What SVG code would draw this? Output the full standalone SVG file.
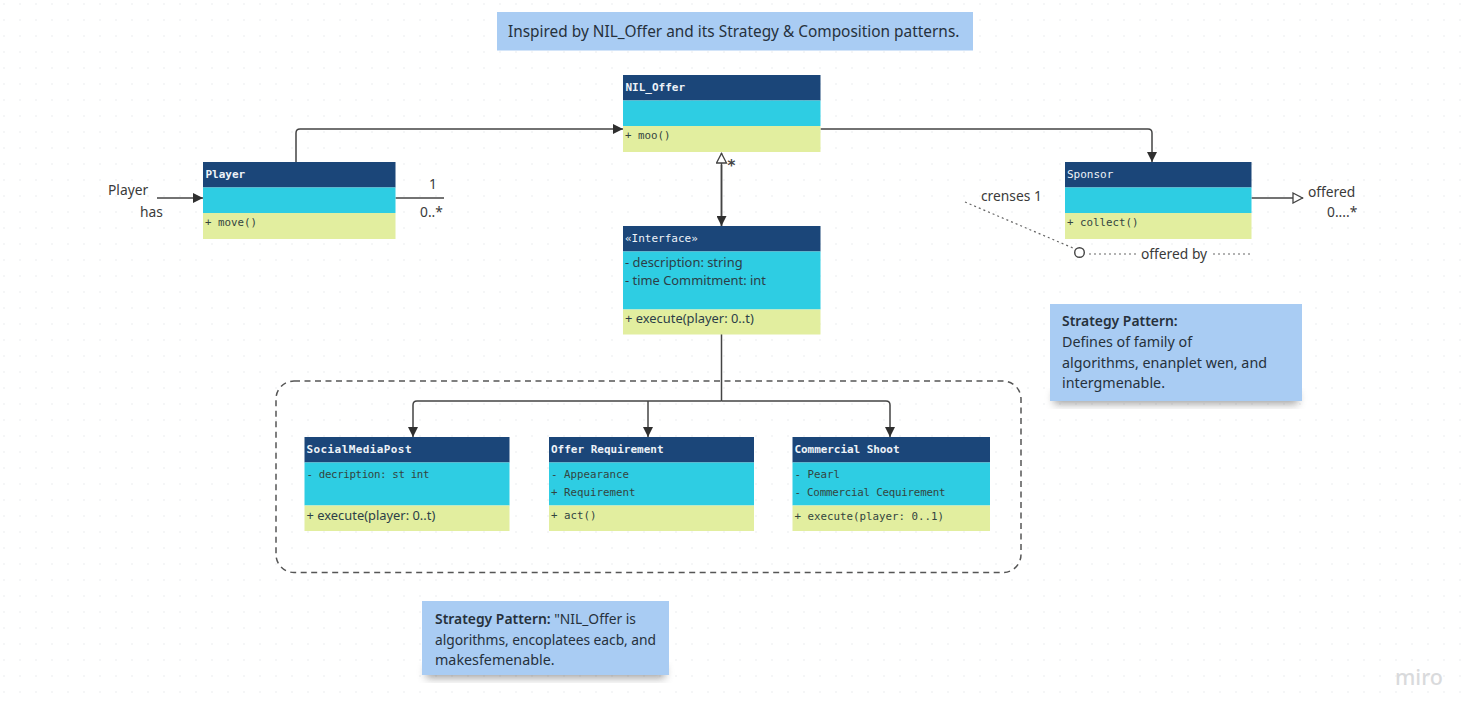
<svg xmlns="http://www.w3.org/2000/svg" width="1472" height="704" viewBox="0 0 1472 704">
<style>
.hd{fill:#1b4679}.md{fill:#2ecde3}.ft{fill:#e2ee9f}
.t{font-family:"DejaVu Sans Mono","Liberation Mono",monospace;font-size:11px;font-weight:700;fill:#eef3f8}
.m{font-family:"DejaVu Sans Mono","Liberation Mono",monospace;font-size:10.8px;fill:#33453f}
.a{font-family:"Noto Sans","Open Sans",sans-serif;font-size:12.9px;fill:#2c3e48}
.l{font-family:"Noto Sans","Open Sans",sans-serif;font-size:13.8px;fill:#3a3a3a}
.n{font-family:"Noto Sans","Open Sans",sans-serif;font-size:14.3px;fill:#26313c}
.s{font-size:13.8px}
.b{font-weight:600;font-size:13.9px}
.c{fill:none;stroke:#444;stroke-width:1.5}
.d{fill:none;stroke:#666;stroke-width:1.2;stroke-dasharray:2 3}
.note{fill:#a9ccf3}
</style>
<defs>
<pattern id="dots" width="16" height="16" patternUnits="userSpaceOnUse"><circle cx="4" cy="4" r=".7" fill="#e4e6e8"/></pattern>
<marker id="fa" markerWidth="12" markerHeight="10" refX="10" refY="5" orient="auto" markerUnits="userSpaceOnUse"><path d="M0 0L10 5L0 10Z" fill="#2f2f2f"/></marker>
<marker id="ha" markerWidth="14" markerHeight="12" refX="11" refY="6" orient="auto" markerUnits="userSpaceOnUse"><path d="M1 1L10.500 6L1 11Z" fill="#fff" stroke="#444" stroke-width="1.300"/></marker>
<filter id="sh" x="-10%" y="-30%" width="120%" height="170%"><feGaussianBlur stdDeviation="4"/></filter>
</defs>
<rect width="1472" height="704" fill="#fff"/>
<rect width="1472" height="704" fill="url(#dots)"/>

<g id="title-note"><rect class="note" x="497" y="12" width="476" height="38.500"/><text class="n" x="508" y="37" style="font-size:15.4px">Inspired by NIL_Offer and its Strategy &amp; Composition patterns.</text></g>

<g id="composite-frame"><rect x="276" y="381" width="745" height="191.500" rx="18" fill="none" stroke="#555" stroke-width="1.500" stroke-dasharray="6 4.500"/></g>

<g id="connectors">
<path class="c" d="M296 162V133Q296 129 300 129H623" marker-end="url(#fa)"/>
<path class="c" d="M820.500 129H1148Q1152 129 1152 133V162" marker-end="url(#fa)"/>
<path class="c" d="M721.500 226V153" marker-end="url(#ha)"/>
<path class="c" d="M721.500 165V226" marker-end="url(#fa)"/>
<path class="c" d="M721.500 334V401"/>
<path class="c" d="M721.500 401H417Q413 401 413 405V437" marker-end="url(#fa)"/>
<path class="c" d="M648 401V437" marker-end="url(#fa)"/>
<path class="c" d="M721.500 401H886Q890 401 890 405V437" marker-end="url(#fa)"/>
<path class="c" d="M157 198H203" marker-end="url(#fa)"/>
<path class="c" d="M395.500 198H444"/>
<path class="c" d="M1251.500 198H1303" marker-end="url(#ha)"/>
<path class="d" d="M965 202L1073 248"/>
<circle cx="1079.500" cy="252.500" r="4.800" fill="#fff" stroke="#444" stroke-width="1.400"/>
<path class="d" d="M1089 254H1137M1213 254H1250"/>
</g>

<g id="player"><rect class="hd" x="203" y="162" width="192.500" height="25.500"/><rect class="md" x="203" y="187.500" width="192.500" height="25.500"/><rect class="ft" x="203" y="213" width="192.500" height="26"/><text class="t" x="205.500" y="178">Player</text><text class="m" x="205" y="226">+ move()</text></g>
<g id="nil-offer"><rect class="hd" x="623" y="75" width="197.500" height="25.500"/><rect class="md" x="623" y="100.500" width="197.500" height="25.500"/><rect class="ft" x="623" y="126" width="197.500" height="26"/><text class="t" x="625.500" y="91">NIL_Offer</text><text class="m" x="625" y="139">+ moo()</text></g>
<g id="interface"><rect class="hd" x="623" y="226" width="197.500" height="25.500"/><rect class="md" x="623" y="251.500" width="197.500" height="58"/><rect class="ft" x="623" y="309.500" width="197.500" height="25"/><text class="t" x="625" y="242" style="font-weight:400">«Interface»</text><text class="a" x="625" y="267">- description: string</text><text class="a" x="625" y="285">- time Commitment: int</text><text class="a" x="625" y="323">+ execute(player: 0..t)</text></g>
<g id="sponsor"><rect class="hd" x="1065" y="162" width="186.500" height="25.500"/><rect class="md" x="1065" y="187.500" width="186.500" height="25.500"/><rect class="ft" x="1065" y="213" width="186.500" height="26"/><text class="t" x="1067" y="178" style="font-weight:400">Sponsor</text><text class="m" x="1067" y="226">+ collect()</text></g>
<g id="social-media-post"><rect class="hd" x="304.500" y="437" width="205" height="25.500"/><rect class="md" x="304.500" y="462.500" width="205" height="43"/><rect class="ft" x="304.500" y="505.500" width="205" height="25.500"/><text class="t" x="306.500" y="453" textLength="105">SocialMediaPost</text><text class="m" x="306.500" y="478" textLength="123">- decription: st int</text><text class="a" x="306.500" y="520">+ execute(player: 0..t)</text></g>
<g id="offer-requirement"><rect class="hd" x="549" y="437" width="205" height="25.500"/><rect class="md" x="549" y="462.500" width="205" height="43"/><rect class="ft" x="549" y="505.500" width="205" height="25.500"/><text class="t" x="551" y="453">Offer Requirement</text><text class="m" x="551" y="478">- Appearance</text><text class="m" x="551" y="495.500">+ Requirement</text><text class="m" x="551" y="519">+ act()</text></g>
<g id="commercial-shoot"><rect class="hd" x="792.500" y="437" width="197.500" height="25.500"/><rect class="md" x="792.500" y="462.500" width="197.500" height="43"/><rect class="ft" x="792.500" y="505.500" width="197.500" height="25.500"/><text class="t" x="794.500" y="453" textLength="105">Commercial Shoot</text><text class="m" x="794.500" y="478">- Pearl</text><text class="m" x="794.500" y="495.500" textLength="151">- Commercial Cequirement</text><text class="m" x="794.500" y="520">+ execute(player: 0..1)</text></g>

<g id="labels">
<text class="l" x="108" y="195">Player</text><text class="l" x="140" y="217">has</text>
<text class="l" x="429" y="189">1</text><text class="l" x="420" y="217">0..*</text>
<text class="l" x="981" y="201">crenses 1</text>
<text class="l" x="1141" y="259">offered by</text>
<text class="l" x="1308" y="197">offered</text><text class="l" x="1327" y="217">0....*</text>
<text x="727.500" y="171" style="font-family:'DejaVu Sans',sans-serif;font-size:15px;font-weight:700;fill:#444">*</text>
</g>

<g id="strategy-note-right"><rect x="1054" y="392" width="244" height="12" fill="#555" opacity=".55" filter="url(#sh)"/><rect class="note" x="1050" y="304" width="252" height="97"/><text class="n b" x="1062" y="326">Strategy Pattern:</text><text class="n" x="1062" y="347">Defines of family of</text><text class="n" x="1062" y="368">algorithms, enanplet wen, and</text><text class="n" x="1062" y="388">intergmenable.</text></g>
<g id="strategy-note-bottom"><rect x="426" y="666" width="239" height="12" fill="#555" opacity=".55" filter="url(#sh)"/><rect class="note" x="422" y="601" width="247" height="74"/><text class="n s" x="435" y="624"><tspan class="b">Strategy Pattern:</tspan> "NIL_Offer is</text><text class="n s" x="435" y="645" textLength="221">algorithms, encoplatees eacb, and</text><text class="n" x="435" y="665">makesfemenable.</text></g>

<text x="1395" y="685" style="font-family:'Noto Sans',sans-serif;font-size:21.5px;font-weight:500;fill:#d9dadc">miro</text>
</svg>
